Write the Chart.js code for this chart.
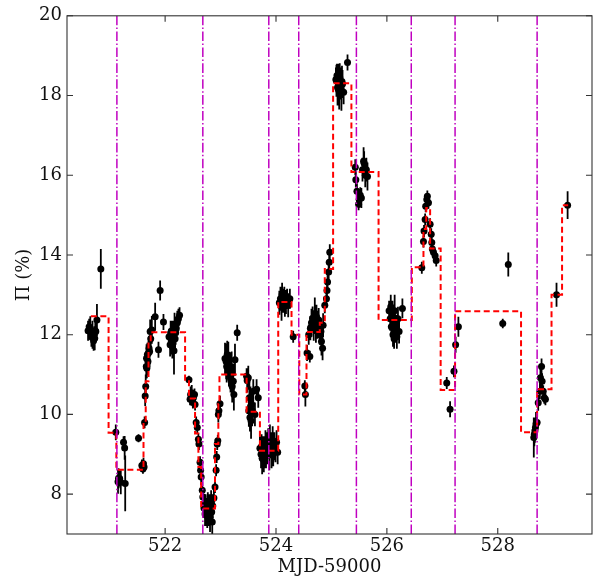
<!DOCTYPE html>
<html><head><meta charset="utf-8">
<script src="https://cdn.jsdelivr.net/npm/chart.js@4"></script>
<style>html,body{margin:0;padding:0;background:#fff;} canvas{display:block;}</style>
</head><body>
<canvas id="c" width="604" height="583" style="width:604px;height:583px"></canvas>
<script>
// Observations: MJD-59000, polarization degree (%), 1-sigma error
const obsMJD = [
  520.61,520.63,520.65,520.67,520.69,520.71,520.73,520.74,520.75,520.77,520.84,
  521.11,521.15,521.16,521.18,521.20,521.25,521.27,521.28,
  521.52,521.58,521.60,521.61,521.62,521.63,521.64,521.65,521.66,521.665,521.67,521.68,521.69,521.70,521.71,521.72,521.73,521.74,521.76,521.82,521.88,521.91,521.97,
  522.07,522.09,522.10,522.11,522.12,522.13,522.14,522.15,522.16,522.17,522.18,522.19,522.20,522.22,522.24,522.26,
  522.43,522.45,522.46,522.48,522.50,522.51,522.53,522.54,522.56,522.58,522.60,522.61,522.63,522.64,522.65,522.67,522.68,
  522.70,522.72,522.73,522.74,522.75,522.76,522.77,522.78,522.79,522.80,522.81,522.82,522.83,522.84,522.85,522.86,522.88,
  522.90,522.92,522.93,522.94,522.95,522.96,522.97,522.99,
  523.08,523.10,523.11,523.12,523.14,523.15,523.17,523.18,523.20,523.21,523.23,523.24,523.26,523.30,
  523.47,523.48,523.50,523.51,523.52,523.53,523.54,523.55,523.56,523.57,523.59,523.62,523.65,523.68,
  523.71,523.73,523.74,523.75,523.77,523.78,523.79,523.81,523.82,523.84,523.86,523.88,523.89,523.91,523.92,523.94,523.95,523.97,523.99,524.01,524.03,
  524.06,524.08,524.10,524.11,524.13,524.15,524.16,524.18,524.20,524.22,524.25,524.31,
  524.52,524.53,524.56,524.59,524.61,524.62,524.64,524.66,524.68,524.70,524.72,524.73,524.75,524.77,524.79,524.81,524.82,524.84,524.85,524.88,524.91,524.92,524.93,524.95,524.96,524.97,
  525.08,525.09,525.10,525.11,525.12,525.13,525.14,525.15,525.16,525.18,525.19,525.20,525.22,525.29,
  525.43,525.44,525.46,525.49,525.50,525.52,525.54,525.56,525.58,525.59,525.61,525.63,525.65,
  526.04,526.06,526.07,526.08,526.10,526.11,526.12,526.13,526.14,526.15,526.17,526.18,526.20,526.22,526.28,
  526.63,526.66,526.67,526.69,526.70,526.72,526.73,526.75,526.78,526.80,526.81,526.82,526.84,526.87,526.89,
  527.08,527.14,527.21,527.24,527.29,
  528.09,528.19,
  528.65,528.66,528.67,528.68,528.69,528.71,528.73,528.76,528.77,528.79,528.80,528.82,528.84,528.86,
  529.06,529.26
];
const obsPol = [
  12.10,12.20,12.16,11.95,12.00,11.85,11.91,12.10,12.08,12.37,13.65,
  9.55,8.31,8.40,8.39,8.30,9.30,9.16,8.27,
  9.40,8.72,8.63,8.76,8.68,9.80,10.46,10.70,11.20,11.41,11.16,11.50,11.33,11.54,11.66,11.58,12.08,11.90,12.12,12.45,11.62,13.11,12.32,
  11.95,11.75,12.05,11.85,12.10,11.70,11.95,12.00,11.60,12.20,11.90,12.05,12.15,12.30,12.40,12.49,
  10.87,10.38,10.50,10.54,10.30,10.42,10.50,10.25,9.80,9.67,9.38,9.26,8.80,8.60,8.43,8.10,7.93,
  7.65,7.50,7.70,7.55,7.60,7.45,7.75,7.62,7.50,7.70,7.40,7.60,7.80,7.55,7.30,7.70,7.90,
  8.18,8.60,8.93,9.26,9.34,10.00,10.09,10.27,
  11.40,11.33,11.20,11.50,11.37,11.10,11.16,10.90,11.08,10.70,10.83,10.50,11.37,12.05,
  10.96,10.85,10.92,10.09,10.42,9.92,10.20,9.84,10.25,10.10,10.58,10.00,10.63,10.42,
  9.15,9.00,9.20,8.90,9.10,8.85,9.05,9.25,8.95,9.15,9.30,9.00,9.40,9.20,9.10,9.35,9.00,9.20,9.10,9.30,9.05,
  12.80,12.90,12.70,13.00,12.85,12.95,12.75,12.82,12.90,12.74,12.90,11.95,
  10.71,10.50,11.54,12.00,11.45,12.16,12.30,12.41,12.20,12.53,12.10,12.45,12.25,12.37,12.00,12.08,11.83,11.66,12.24,12.74,12.90,13.11,13.32,13.57,13.82,14.07,
  18.40,18.37,18.50,18.20,18.21,18.45,18.10,18.46,18.30,18.12,18.35,18.29,18.08,18.83,
  16.20,15.89,15.60,15.27,15.39,15.50,15.43,16.14,16.35,16.30,16.00,16.14,15.97,
  12.60,12.40,12.70,12.20,12.50,12.00,12.30,11.90,12.60,12.10,12.20,11.95,12.40,12.08,12.66,
  13.68,14.34,14.60,14.89,15.22,15.39,15.47,15.31,14.77,14.52,14.31,14.15,14.07,13.98,13.86,
  10.79,10.13,11.08,11.75,12.20,
  12.28,13.76,
  9.42,9.50,9.59,9.67,9.76,9.80,10.29,10.58,10.92,11.20,10.83,10.58,10.42,10.38,
  13.00,15.25
];
const obsErr = [
  .25,.20,.30,.25,.35,.25,.30,.20,.25,.40,.50,
  .20,.30,.25,.20,.30,.15,.30,.70,
  .10,.15,.12,.15,.12,.15,.25,.30,.30,.35,.25,.30,.35,.30,.30,.40,.30,.40,.35,.35,.20,.25,.20,
  .20,.30,.30,.35,.25,.30,.40,.30,.60,.35,.30,.30,.30,.30,.25,.20,
  .10,.15,.20,.20,.15,.20,.15,.15,.15,.15,.15,.15,.15,.15,.20,.20,.20,
  .25,.30,.30,.35,.30,.30,.30,.35,.30,.30,.35,.30,.30,.30,.35,.30,.25,
  .15,.15,.15,.15,.15,.20,.20,.20,
  .40,.45,.40,.35,.45,.40,.40,.35,.50,.40,.45,.40,.40,.20,
  .20,.30,.30,.40,.40,.35,.50,.45,.35,.40,.30,.30,.25,.25,
  .30,.35,.30,.40,.35,.30,.40,.35,.30,.40,.35,.40,.35,.30,.45,.35,.30,.35,.30,.30,.30,
  .30,.30,.35,.30,.30,.25,.30,.30,.25,.30,.25,.15,
  .15,.30,.20,.25,.15,.30,.35,.30,.35,.40,.30,.30,.35,.30,.25,.30,.35,.30,.30,.20,.20,.20,.20,.20,.30,.20,
  .30,.40,.30,.45,.40,.35,.45,.35,.40,.50,.40,.35,.30,.20,
  .20,.20,.20,.15,.20,.20,.25,.30,.35,.30,.30,.30,.35,
  .25,.30,.30,.25,.35,.30,.30,.25,.40,.30,.30,.30,.30,.30,.25,
  .15,.15,.15,.15,.15,.15,.15,.15,.15,.15,.15,.15,.15,.15,.15,
  .15,.20,.15,.20,.25,
  .12,.30,
  .50,.30,.30,.25,.30,.20,.20,.20,.30,.20,.20,.15,.15,.15,
  .30,.35
];
// Bayesian-block step function: block edges and block values
const blockEdges = [520.66,520.98,521.12,521.61,521.65,521.70,521.74,522.36,522.43,522.54,522.60,522.65,522.90,522.96,522.98,523.47,523.71,524.04,524.28,524.42,524.55,524.79,524.88,525.03,525.36,525.85,526.45,526.66,526.71,526.78,526.97,527.23,528.42,528.71,528.97,529.16,529.27];
const blockValues = [12.46,9.54,8.61,9.8,10.83,11.83,12.06,10.87,10.4,9.52,8.68,7.64,9.26,10.26,11.0,10.07,9.09,12.82,12.0,10.5,12.07,12.3,13.65,18.31,16.08,12.37,13.69,14.65,15.18,14.16,10.61,12.59,9.55,10.63,13.0,15.25];
// Vertical marker epochs
const markerMJD = [521.13,522.68,523.87,524.41,525.45,526.44,527.23,528.71];
// Axes
const xRange = [520.23, 529.70];
const yRange = [7, 20];
const xTicks = [522,524,526,528];
const yTicks = [8,10,12,14,16,18,20];

const FONT = {family:'DejaVu Serif', size:18};
const ptData = obsMJD.map((x,i)=>({x, y: obsPol[i]}));
const errData = [];
obsMJD.forEach((x,i)=>{ const e = obsErr[i] ?? 0.25; errData.push({x, y: obsPol[i]-e},{x, y: obsPol[i]+e},{x, y: null}); });
const stepData = blockEdges.map((x,i)=>({x, y: blockValues[Math.min(i, blockValues.length-1)]}));
const vData = [];
markerMJD.forEach(x=>{ vData.push({x, y: yRange[0]},{x, y: yRange[1]},{x, y: null}); });

const framePlugin = {
  id: 'frame',
  afterDatasetsDraw(chart){
    const {ctx, chartArea:a, scales:{x, y}} = chart;
    ctx.save();
    ctx.strokeStyle = '#333'; ctx.lineWidth = 1.1;
    ctx.strokeRect(a.left, a.top, a.width, a.height);
    ctx.beginPath();
    xTicks.forEach(v=>{ const p = x.getPixelForValue(v);
      ctx.moveTo(p, a.bottom); ctx.lineTo(p, a.bottom-6);
      ctx.moveTo(p, a.top); ctx.lineTo(p, a.top+6); });
    yTicks.forEach(v=>{ const p = y.getPixelForValue(v);
      ctx.moveTo(a.left, p); ctx.lineTo(a.left+6, p);
      ctx.moveTo(a.right, p); ctx.lineTo(a.right-6, p); });
    ctx.stroke();
    ctx.restore();
  }
};

new Chart(document.getElementById('c'), {
  type: 'line',
  data: { datasets: [
    {data: vData, borderColor:'#c000c0', borderWidth:1.5, borderDash:[9.6,2.4,1.5,2.4], pointRadius:0, spanGaps:false, fill:false, order:0},
    {data: stepData, stepped:'before', borderColor:'#ff0000', borderWidth:2, borderDash:[6,3.5], pointRadius:0, fill:false, order:1},
    {type:'scatter', data: ptData, pointRadius:3.5, pointBackgroundColor:'#000', pointBorderWidth:0, backgroundColor:'#000', borderWidth:0, order:2},
    {data: errData, borderColor:'#000', borderWidth:1.8, pointRadius:0, spanGaps:false, fill:false, order:3}
  ]},
  options: {
    responsive:false, animation:false,
    layout: {padding:{top:11, right:12, left:0, bottom:0}},
    plugins: {legend:{display:false}, tooltip:{enabled:false}},
    scales: {
      x: {type:'linear', min:xRange[0], max:xRange[1],
        afterBuildTicks: s=>{ s.ticks = xTicks.map(v=>({value:v})); },
        afterFit: s=>{ s.height = 49; },
        grid:{display:false, drawTicks:false}, border:{display:false},
        ticks:{font:FONT, color:'#111', padding:2, maxRotation:0, autoSkip:false},
        title:{display:true, text:'MJD-59000', font:FONT, color:'#111', padding:{top:0,bottom:5}}},
      y: {type:'linear', min:yRange[0], max:yRange[1],
        afterBuildTicks: s=>{ s.ticks = yTicks.map(v=>({value:v})); },
        afterFit: s=>{ s.width = 67; },
        grid:{display:false, drawTicks:false}, border:{display:false},
        ticks:{font:FONT, color:'#111', padding:5, autoSkip:false},
        title:{display:true, text:'Π (%)', font:FONT, color:'#111', padding:{top:14,bottom:0}}}
    }
  },
  plugins:[framePlugin]
});
</script>
</body></html>
